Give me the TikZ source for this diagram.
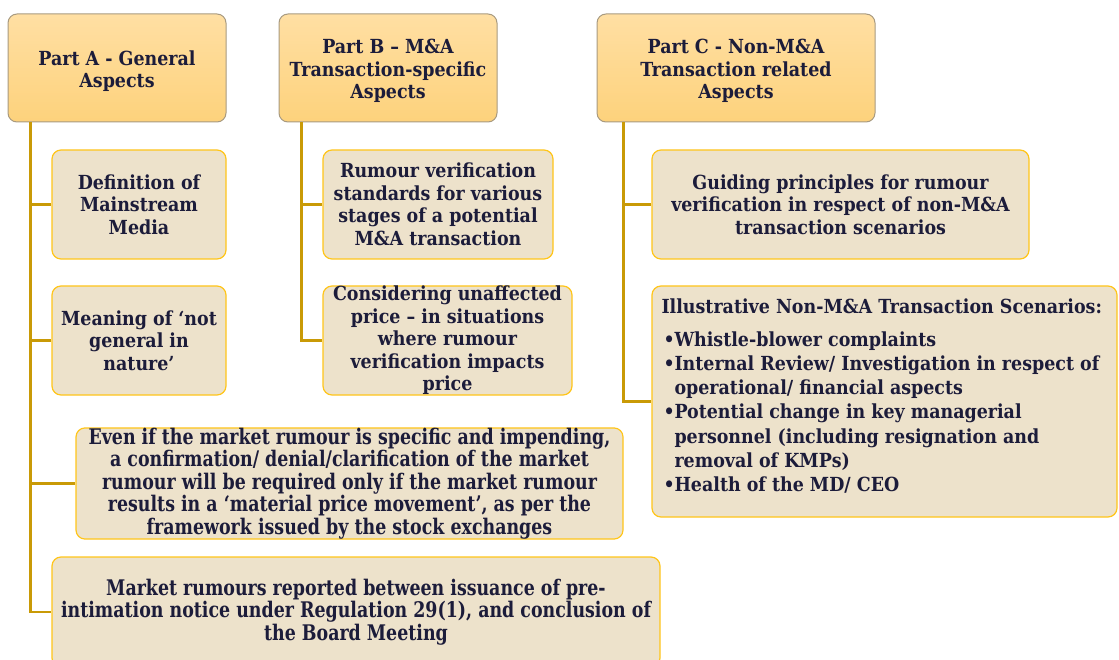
\documentclass[tikz,border=0pt]{standalone}
\usepackage{fontspec}
\setmainfont{DejaVu Serif Condensed}
\newfontfamily\narrowfont[FakeStretch=0.9]{DejaVu Serif Condensed}
\usetikzlibrary{positioning}
\definecolor{ink}{HTML}{1C1C3A}
\definecolor{headtop}{HTML}{FFDFA3}
\definecolor{headbot}{HTML}{FDD27C}
\definecolor{headedge}{HTML}{A89A80}
\definecolor{itemfill}{HTML}{EDE2CB}
\definecolor{itemedge}{HTML}{FFC51A}
\definecolor{trunk}{HTML}{C99A06}
\tikzset{
  x=1pt, y=-1pt,
  head/.style={draw=headedge, line width=1pt, rounded corners=9pt,
    top color=headtop, bottom color=headbot, text=ink,
    font=\bfseries\fontsize{19.4}{22.5}\selectfont, align=center,
    inner sep=0pt},
  boxbase/.style={draw=itemedge, line width=1.2pt, rounded corners=9pt,
    fill=itemfill, text=ink, inner sep=0pt},
  item/.style={boxbase, align=center,
    font=\bfseries\fontsize{19.4}{22.5}\selectfont},
  wide/.style={item, font=\narrowfont\bfseries\fontsize{21.5}{22.5}\selectfont},
  conn/.style={draw=trunk, line width=2.6pt}
}
% a tall strut on the first header line sets the text a little lower
\newcommand\hstrut{\rule{0pt}{21pt}}
% one bulleted entry with a hanging indent
\newcommand\bulletline{\par\hangindent=13pt\hangafter=1\noindent
  \makebox[13pt][l]{\hspace{2pt}\textbullet}}
\begin{document}
\begin{tikzpicture}
\useasboundingbox (0,0) rectangle (1119,660);
% column headers
\node[head, minimum width=218pt, minimum height=108pt] (hA) at (117,68)
  {\hstrut Part A - General\\Aspects};
\node[head, minimum width=218pt, minimum height=108pt] (hB) at (388,68)
  {\hstrut Part B -- M\&A\\Transaction-specific\\Aspects};
\node[head, minimum width=278pt, minimum height=108pt] (hC) at (736,68)
  {\hstrut Part C - Non-M\&A\\Transaction related\\Aspects};
% Part A items
\node[item, minimum width=174pt, minimum height=109pt] (a1) at (139,204.5)
  {Definition of\\Mainstream\\Media};
\node[item, minimum width=174pt, minimum height=109pt] (a2) at (139,340.5)
  {Meaning of ‘not\\general in\\nature’};
\node[wide, minimum width=547pt, minimum height=109pt] (a3) at (349.5,483.5)
  {Even if the market rumour is specific and impending,\\
   a confirmation/ denial/clarification of the market\\
   rumour will be required only if the market rumour\\
   results in a ‘material price movement’, as per the\\
   framework issued by the stock exchanges};
\node[wide, minimum width=608pt, minimum height=110pt] (a4) at (356,612)
  {Market rumours reported between issuance of pre-\\
   intimation notice under Regulation 29(1), and conclusion of\\
   the Board Meeting};
% Part B items
\node[item, minimum width=230pt, minimum height=109pt] (b1) at (438,204.5)
  {Rumour verification\\standards for various\\stages of a potential\\M\&A transaction};
\node[item, minimum width=249pt, minimum height=109pt] (b2) at (447.5,340.5)
  {Considering unaffected\\price -- in situations\\where rumour\\verification impacts\\price};
% Part C items
\node[item, minimum width=377pt, minimum height=109pt] (c1) at (840.5,204.5)
  {Guiding principles for rumour\\verification in respect of non-M\&A\\transaction scenarios};
\node[boxbase, minimum width=465pt, minimum height=231pt] (c2) at (884.5,401.5)
  {\begin{minipage}[c][205pt][t]{446pt}
   \bfseries\fontsize{19.4}{24.3}\selectfont\parindent=0pt
   Illustrative Non-M\&A Transaction Scenarios:\par\vspace{8pt}
   \bulletline Whistle-blower complaints
   \bulletline Internal Review/ Investigation in respect of\\operational/ financial aspects
   \bulletline Potential change in key managerial\\personnel (including resignation and\\removal of KMPs)
   \bulletline Health of the MD/ CEO\par
   \end{minipage}};
% trunk lines
\coordinate (tA) at ([xshift=23pt]hA.south west);
\coordinate (tB) at ([xshift=23pt]hB.south west);
\coordinate (tC) at ([xshift=27pt]hC.south west);
\draw[conn] (tA) |- (a4.west);
\draw[conn] (a1.west) -- (a1.west -| tA);
\draw[conn] (a2.west) -- (a2.west -| tA);
\draw[conn] (a3.west) -- (a3.west -| tA);
\draw[conn] (tB) |- (b2.west);
\draw[conn] (b1.west) -- (b1.west -| tB);
\draw[conn] (tC) |- (c2.west);
\draw[conn] (c1.west) -- (c1.west -| tC);
\end{tikzpicture}
\end{document}
